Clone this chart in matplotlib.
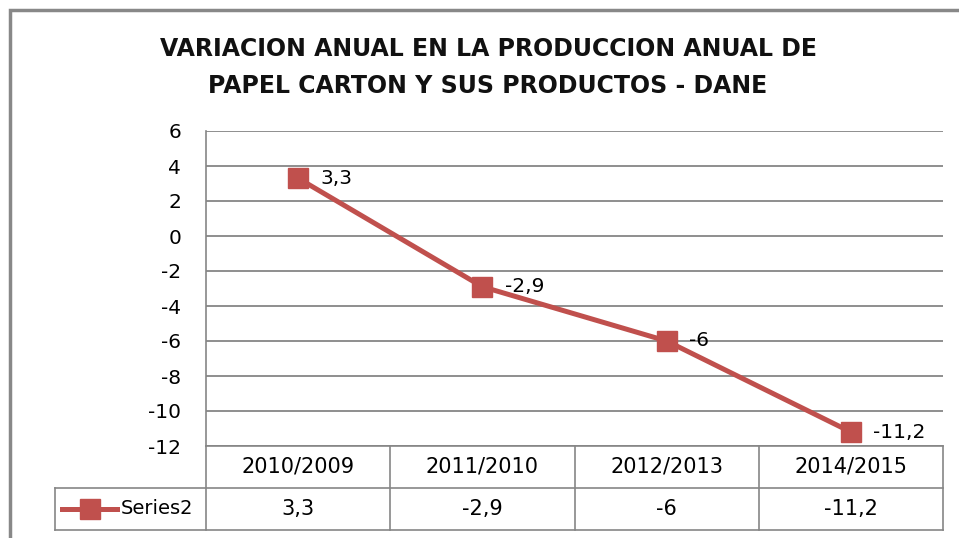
import matplotlib
matplotlib.use("Agg")
import matplotlib.pyplot as plt
from matplotlib.lines import Line2D
from matplotlib.patches import Rectangle
import matplotlib.transforms as mtransforms

categories = ["2010/2009", "2011/2010", "2012/2013", "2014/2015"]
values = [3.3, -2.9, -6.0, -11.2]
series_name = "Series2"
title_lines = ["VARIACION ANUAL EN LA PRODUCCION ANUAL DE",
               "PAPEL CARTON Y SUS PRODUCTOS - DANE"]
yticks = [6, 4, 2, 0, -2, -4, -6, -8, -10, -12]

def fmt(v):
    return ("%g" % v).replace(".", ",")

W, H = 959, 538
FONT = "DejaVu Sans"
RED = "#C0504D"
GRID = "#868686"
FS = 14.5

fig = plt.figure(figsize=(W / 100, H / 100), dpi=100)
fig.patch.set_facecolor("white")

def px(x, y):
    return x / W, 1 - y / H

# outer chart frame
fig.add_artist(Rectangle(px(10, 700), 1000 / W, 690 / H, transform=fig.transFigure,
                         fill=False, edgecolor="#888888", linewidth=2.5))

left, top, right, bottom = 206, 131, 943, 446
ax = fig.add_axes([left / W, 1 - bottom / H, (right - left) / W, (bottom - top) / H])
ax.set_xlim(-0.5, len(categories) - 0.5)
ax.set_ylim(-12, 6)
ax.set_yticks(yticks)
ax.set_yticklabels([str(t) for t in yticks], fontsize=FS, family=FONT)
ax.tick_params(axis="y", length=0, pad=18)
ax.set_xticks([])
for s in ["top", "right", "bottom"]:
    ax.spines[s].set_visible(False)
ax.spines["left"].set_color(GRID)
ax.spines["left"].set_linewidth(1.2)
ax.grid(axis="y", color=GRID, linewidth=1.3)
ax.set_axisbelow(True)

xs = list(range(len(categories)))
ax.plot(xs, values, color=RED, linewidth=3.6, marker="s", markersize=14.5,
        markerfacecolor=RED, markeredgecolor=RED, clip_on=False, zorder=3)
for x, v in zip(xs, values):
    ax.annotate(fmt(v), (x, v), xytext=(16, 0), textcoords="offset points",
                ha="left", va="center", fontsize=FS, family=FONT, color="black")

for yb, line in zip([56.5, 93], title_lines):
    fig.text(488 / W, 1 - yb / H, line, ha="center", va="baseline", fontsize=17,
             fontweight="bold", family=FONT, color="#111111")

# data table
def hline(x0, x1, y):
    fig.add_artist(Line2D([x0 / W, x1 / W], [1 - y / H, 1 - y / H],
                          transform=fig.transFigure, color=GRID, linewidth=1.2))

def vline(x, y0, y1):
    fig.add_artist(Line2D([x / W, x / W], [1 - y0 / H, 1 - y1 / H],
                          transform=fig.transFigure, color=GRID, linewidth=1.2))

row1, row2, row3 = 446, 488, 530
hline(left, right, row1)
hline(55, right, row2)
hline(55, right, row3)
vline(55, row2, row3)
vline(left, row1, row3)
col_w = (right - left) / len(categories)
for i in range(1, len(categories) + 1):
    vline(left + i * col_w, row1, row3)

trans = mtransforms.blended_transform_factory(ax.transData, fig.transFigure)
for x, c, v in zip(xs, categories, values):
    fig.text(x, 1 - 467 / H, c, transform=trans, ha="center", va="center",
             fontsize=15, family=FONT)
    fig.text(x, 1 - 509 / H, fmt(v), transform=trans, ha="center", va="center",
             fontsize=15, family=FONT)

# legend key inside table
fig.add_artist(Line2D([62 / W, 117 / W], [1 - 509 / H] * 2, transform=fig.transFigure,
                      color=RED, linewidth=3.6))
fig.add_artist(Line2D([89.5 / W], [1 - 509 / H], transform=fig.transFigure,
                      color=RED, marker="s", markersize=14.5, linestyle="none"))
fig.text(121 / W, 1 - 509 / H, series_name, ha="left", va="center", fontsize=14, family=FONT)

fig.savefig("out.png", dpi=100)
